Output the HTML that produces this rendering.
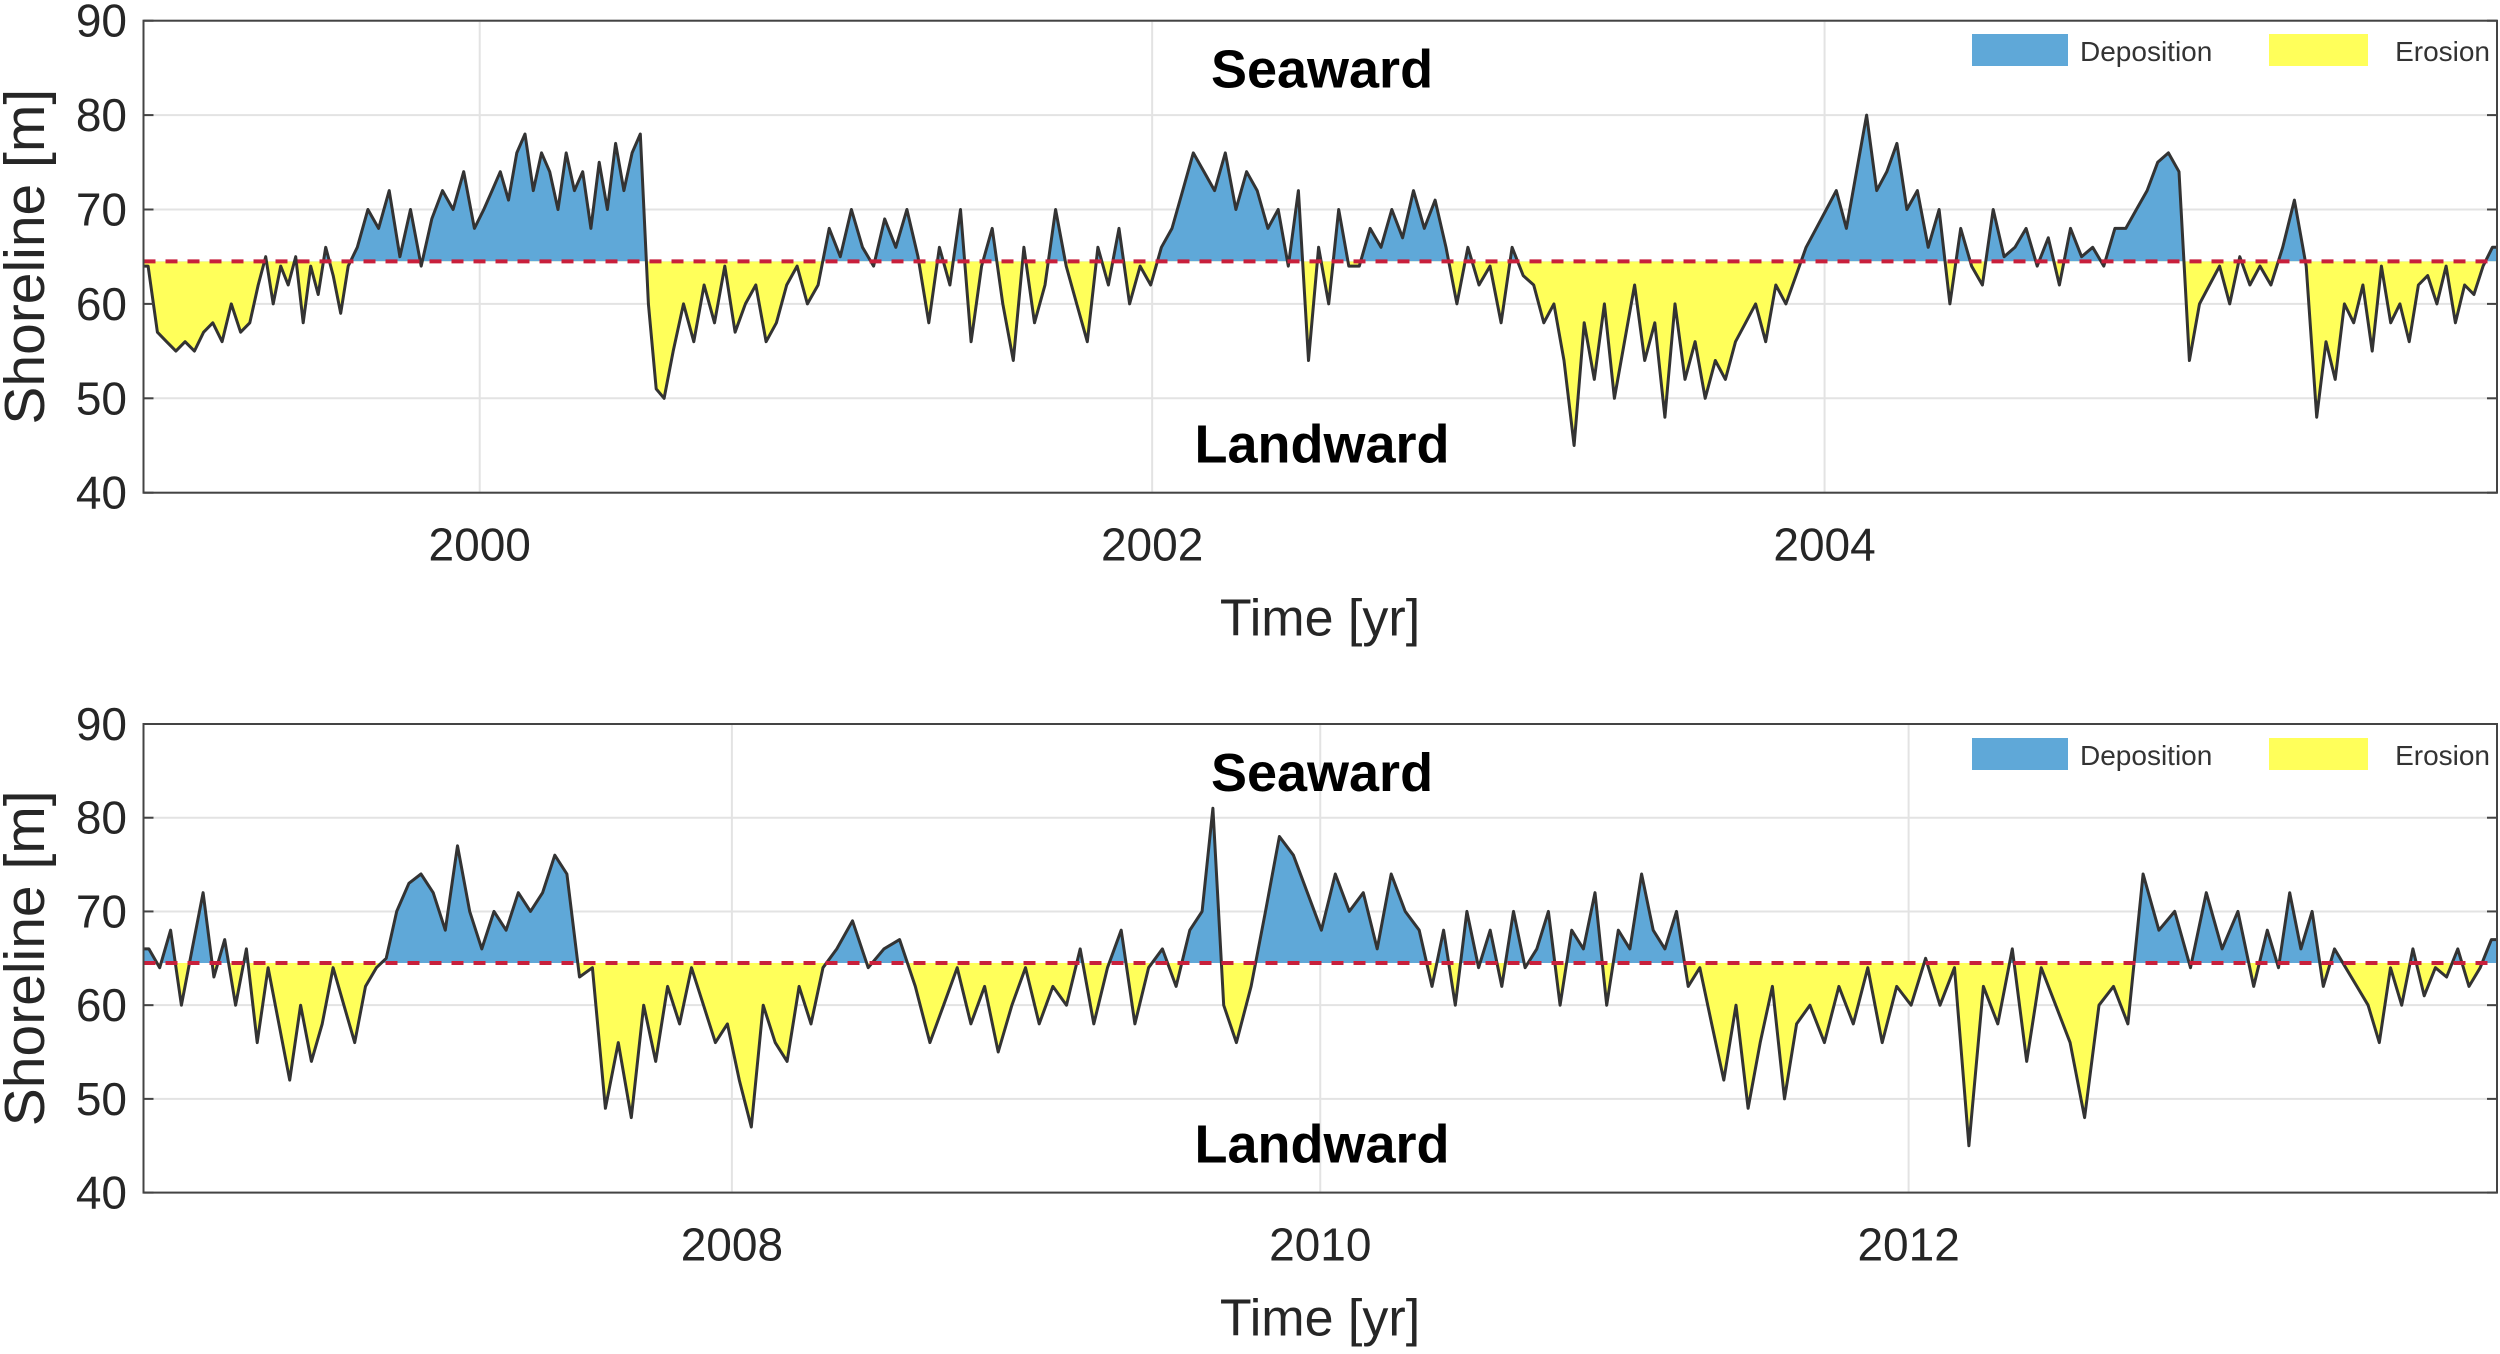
<!DOCTYPE html>
<html><head><meta charset="utf-8"><style>
html,body{margin:0;padding:0;background:#fff;}
svg{display:block;font-family:"Liberation Sans",sans-serif;}
</style></head><body>
<svg id="chart" width="2500" height="1354" viewBox="0 0 2500 1354" xmlns="http://www.w3.org/2000/svg"></svg>
<script>
// ---- data: segment boundaries (years) and shoreline values inside each segment ----
const topSegBounds = [1999.0,1999.33,1999.62,2000.0,2000.49,2000.56,2000.99,2001.32,2001.98,2002.36,2002.6,2002.89,2003.12,2003.93,2004.26,2004.55,2004.88,2005.07,2005.31,2005.45,2006.0];
const topSegValues = [
 [64,57,56,55,56,55,57,58,56,60,57,58],
 [62,65,60,64,62,65,58,64,61,66,63,59,64],
 [66,70,68,72,65,70,64,69,72,70,74,68],
 [70,72,74,71,76,78,72,76,74,70,76,72,74,68,75,70,77,72,76,78],
 [60,51,50],
 [55,60,56,62,58,64,57,60,62,56,58,62,64,60],
 [62,68,65,70,66,64,69,66,70,65],
 [58,66,62,70,56,64,68,60,54,66,58,62,70,64,60,56,66,62,68,60,64],
 [62,66,68,72,76,74,72,76,70,74,72,68],
 [70,64,72,54,66,60,70,64],
 [64,68,66,70,67,72,68,71,66],
 [60,66,62,64,58,66,63],
 [62,58,60,54,45,58,52,60,50,56,62,54,58,48,60,52,56,50,54,52,56,58,60,56,62,60,63],
 [66,68,70,72,68,74,80,72,74,77,70],
 [72,66,70,60,68,64,62,70,65],
 [66,68,64,67,62,68,65,66,64,68],
 [68,70,72,75,76,74],
 [54,60,62,64,60,65,62,64],
 [62,66,71,64],
 [48,56,52,60,58,62,55,64,58,60,56,62,63,60,64,58,62,61,64,66]
];
const bottomSegBounds = [2006.0,2006.81,2006.84,2007.46,2007.68,2008.33,2008.65,2009.3,2009.58,2009.69,2009.79,2010.36,2011.31,2011.64,2012.77,2013.2,2014.0];
const bottomSegValues = [
 [66,64,68,60,66,72,63,67,60,66,56,64,58,52,60,54,58,64,60,56,62,64],
 [65],
 [70,73,74,72,68,77,70,66,70,68,72,70,72,76,74],
 [63,64,49,56,48],
 [60,54,62,58,64,60,56,58,52,47,60,56,54,62,58,64],
 [66,69,64,66,67,62],
 [56,60,64,58,62,55,60,64,58,62,60,66,58,64],
 [68,58,64,66,62,68],
 [70,81,60],
 [56,62],
 [70,78,76,72,68,74,70,72,66,74,70,68],
 [62,68,60,70,64,68,62,70,64,66,70,60,68,66,72,60,68,66,74,68,66,70,62,64],
 [58,52,60,49,56,62,50,58],
 [60,56,62,58,64,56,62,60,65,60,64,45,62,58,66,54,64,60,56,48,60,62,58],
 [74,68,70,64,72,66,70,62],
 [68,64,72,66,70,62,66,64,62,60,56,64,60,66,61,64,63,66,62,64,67]
];
const baselineValue = 64.5;
const yTicks = [40,50,60,70,80,90];
const topYearTicks = [2000,2002,2004];
const bottomYearTicks = [2008,2010,2012];

const NS = "http://www.w3.org/2000/svg";
const svg = document.getElementById('chart');
function mk(tag, attrs, parent){
  const e = document.createElementNS(NS, tag);
  for (const k in attrs) e.setAttribute(k, attrs[k]);
  (parent||svg).appendChild(e);
  return e;
}

function panel(id, top, bottom, bounds, segs, xTicks, legendY){
  const L = 143.5, R = 2497;
  const y0 = bounds[0], y1 = bounds[bounds.length-1];
  const xs = t => L + (t - y0) / (y1 - y0) * (R - L);
  const ys = v => bottom - (v - 40) / 50 * (bottom - top);
  const pts = [];
  segs.forEach((vals, i) => {
    const a = bounds[i], b = bounds[i+1];
    vals.forEach((v, j) => pts.push([a + (j + 0.5) * (b - a) / vals.length, v]));
  });
  const g = mk('g', {});
  
  
  yTicks.forEach(v => {
    const l = mk('line', {x1:L, x2:R, y1:ys(v), y2:ys(v), stroke:'#e3e3e3', 'stroke-width':2}, g);
    
    
  });
  xTicks.forEach(t => {
    const l = mk('line', {x1:xs(t), x2:xs(t), y1:top, y2:bottom, stroke:'#e3e3e3', 'stroke-width':2}, g);
    
    
  });
  const by = ys(baselineValue);
  let line = 'M' + L + ',' + ys(pts[0][1]).toFixed(1);
  pts.forEach(p => { line += 'L' + xs(p[0]).toFixed(1) + ',' + ys(p[1]).toFixed(1); });
  line += 'L' + R + ',' + ys(pts[pts.length-1][1]).toFixed(1);
  const area = line + 'L' + R + ',' + by + 'L' + L + ',' + by + 'Z';
  const defs = mk('defs', {}, g);
  const c1 = mk('clipPath', {id: id + 'above'}, defs);
  mk('rect', {x:L, y:top, width:R-L, height:by-top}, c1);
  const c2 = mk('clipPath', {id: id + 'below'}, defs);
  mk('rect', {x:L, y:by, width:R-L, height:bottom-by}, c2);
  const a1 = mk('path', {d:area, fill:'#5fa8d8', 'clip-path':'url(#' + id + 'above)'}, g);
  
  
  const a2 = mk('path', {d:area, fill:'#ffff5a', 'clip-path':'url(#' + id + 'below)'}, g);
  
  
  const ln = mk('path', {d:line, fill:'none', stroke:'#333', 'stroke-width':3, 'stroke-linejoin':'round'}, g);
  
  
  const bl = mk('line', {x1:L, x2:R, y1:by, y2:by, stroke:'#c8203c', 'stroke-width':4, 'stroke-dasharray':'12 10'}, g);
  
  
  const fr = mk('rect', {x:L, y:top, width:R-L, height:bottom-top, fill:'none', stroke:'#444', 'stroke-width':2}, g);
  
  
  yTicks.forEach(v => {
    mk('line', {x1:L, x2:L+10, y1:ys(v), y2:ys(v), stroke:'#444', 'stroke-width':2}, g);
    mk('line', {x1:R-10, x2:R, y1:ys(v), y2:ys(v), stroke:'#444', 'stroke-width':2}, g);
    const tx = mk('text', {x:127, y:ys(v)+16, 'text-anchor':'end', 'font-size':46, fill:'#262626'}, g);
    tx.textContent = v;
    
    
  });
  xTicks.forEach(t => {
    const tx = mk('text', {x:xs(t), y:bottom+68, 'text-anchor':'middle', 'font-size':46, fill:'#262626'}, g);
    tx.textContent = t;
    
    
  });
  const yt = mk('text', {x:0, y:0, transform:'translate(44,' + ((top+bottom)/2) + ') rotate(-90)', 'text-anchor':'middle', 'font-size':57, fill:'#262626'}, g);
  yt.textContent = 'Shoreline [m]';
  
  
  const xt = mk('text', {x:1320, y:bottom+143, 'text-anchor':'middle', 'font-size':52, fill:'#262626'}, g);
  xt.textContent = 'Time [yr]';
  
  
  const sw = mk('text', {x:1322, y:top+67, 'text-anchor':'middle', 'font-size':54, 'font-weight':'bold', fill:'#000'}, g);
  sw.textContent = 'Seaward';
  
  
  const lw = mk('text', {x:1322, y:bottom-30, 'text-anchor':'middle', 'font-size':54, 'font-weight':'bold', fill:'#000'}, g);
  lw.textContent = 'Landward';
  
  
  const lg = mk('g', {}, g);
  
  
  mk('rect', {x:1972, y:legendY, width:96, height:32, fill:'#5fa8d8'}, lg);
  const d = mk('text', {x:2080, y:legendY+27, 'font-size':28, fill:'#333'}, lg);
  d.textContent = 'Deposition';
  
  
  mk('rect', {x:2269, y:legendY, width:99, height:32, fill:'#ffff5a'}, lg);
  const e = mk('text', {x:2490, y:legendY+27, 'text-anchor':'end', 'font-size':28, fill:'#333'}, lg);
  e.textContent = 'Erosion';
  
  
}
panel('top', 20.7, 492.7, topSegBounds, topSegValues, topYearTicks, 34);
panel('bottom', 724, 1192.6, bottomSegBounds, bottomSegValues, bottomYearTicks, 738);
</script>
</body></html>
